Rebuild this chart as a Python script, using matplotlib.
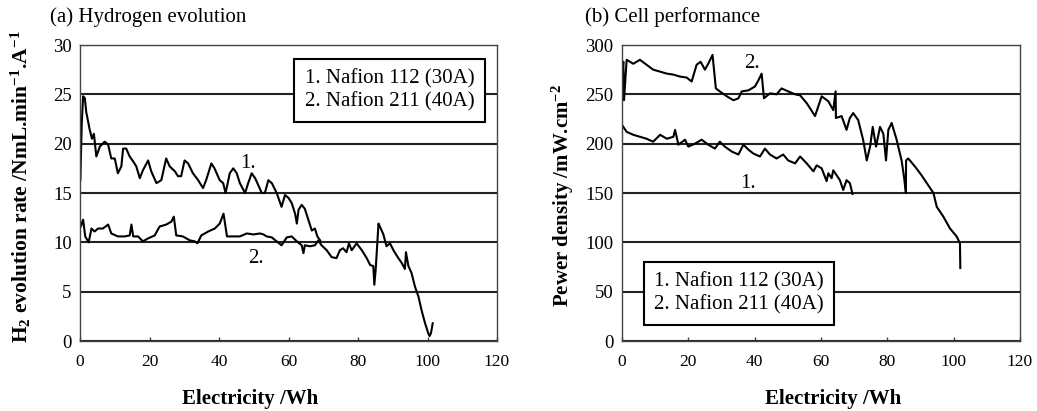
import matplotlib
matplotlib.use("Agg")
import matplotlib.pyplot as plt
import numpy as np

plt.rcParams['font.family'] = ['Liberation Serif', 'DejaVu Serif']
plt.rcParams['mathtext.fontset'] = 'custom'
plt.rcParams['mathtext.rm'] = 'Liberation Serif'
plt.rcParams['mathtext.bf'] = 'Liberation Serif:bold'
plt.rcParams['mathtext.default'] = 'bf'

# ---------- (a) Hydrogen evolution ----------
h2_x1 = [0.1, 0.5, 0.9, 1.4, 1.8, 2.8, 3.45, 4.0, 4.7, 5.7, 7.1, 8.1, 9.0, 10.0, 10.9, 11.9, 12.4, 13.3,
         14.3, 15.3, 16.2, 17.2, 18.1, 19.6, 20.5, 22.0, 23.4, 24.8, 25.8, 27.3, 28.2, 29.1, 30.1, 31.1,
         32.5, 34.0, 35.4, 36.3, 37.8, 38.7, 40.2, 41.2, 41.9, 43.1, 44.1, 45.1, 46.0, 47.5, 48.4, 49.4,
         50.4, 51.3, 52.3, 53.2, 54.2, 55.2, 56.6, 58.0, 59.0, 60.0, 60.9, 61.9, 62.4, 62.9, 63.8, 64.7,
         65.7, 66.7, 67.6, 68.3, 69.1]
h2_y1 = [16.3, 22.0, 24.8, 24.6, 23.2, 21.4, 20.5, 21.0, 18.7, 19.7, 20.2, 19.9, 18.5, 18.5, 17.0, 17.7,
         19.5, 19.5, 18.7, 18.2, 17.7, 16.5, 17.3, 18.3, 17.2, 16.0, 16.3, 18.5, 17.7, 17.2, 16.7, 16.7,
         18.3, 18.0, 17.0, 16.3, 15.5, 16.3, 18.0, 17.5, 16.3, 16.0, 15.0, 17.0, 17.5, 17.0, 16.0, 15.0,
         16.0, 17.0, 16.5, 15.8, 15.0, 15.0, 16.3, 16.0, 15.0, 13.6, 14.8, 14.5, 14.0, 12.9, 11.9, 13.3,
         13.8, 13.4, 12.3, 11.2, 11.4, 10.6, 10.2]

h2_x2 = [0.2, 0.9, 1.5, 2.5, 3.3, 4.2, 5.2, 6.6, 8.1, 9.0, 10.9, 12.9, 14.3, 14.8, 15.3, 16.7, 18.1, 19.6,
         21.5, 22.9, 24.8, 26.3, 27.0, 27.7, 29.6, 31.6, 33.0, 33.8, 34.9, 36.9, 38.8, 40.2, 41.3, 42.3,
         44.5, 46.0, 48.0, 49.9, 51.8, 52.8, 53.7, 55.2, 56.6, 58.0, 59.5, 60.9, 62.4, 63.8, 64.3, 64.7,
         66.2, 67.6, 68.6, 69.5, 71.0, 72.4, 73.8, 74.8, 75.7, 76.7, 77.4, 78.2, 79.6, 81.1, 82.5, 83.5,
         84.4, 84.7, 85.1, 85.9, 86.3, 87.3, 88.2, 89.2, 90.2, 91.6, 92.6, 93.5, 93.8, 94.5, 95.4, 96.4,
         97.4, 98.3, 99.3, 100.2, 100.6, 101.0, 101.5]
h2_y2 = [11.6, 12.3, 10.6, 10.0, 11.4, 11.1, 11.4, 11.4, 11.8, 10.9, 10.6, 10.6, 10.7, 11.8, 10.6, 10.6,
         10.1, 10.4, 10.7, 11.6, 11.8, 12.1, 12.6, 10.7, 10.6, 10.2, 10.1, 9.9, 10.7, 11.1, 11.4, 11.9,
         12.9, 10.6, 10.6, 10.6, 10.9, 10.8, 10.9, 10.8, 10.6, 10.5, 10.1, 9.7, 10.5, 10.6, 10.1, 9.7,
         8.9, 9.7, 9.6, 9.7, 10.2, 9.7, 9.2, 8.5, 8.4, 9.2, 9.4, 9.0, 9.9, 9.2, 9.9, 9.2, 8.4, 7.7, 7.6,
         5.7, 7.3, 11.9, 11.6, 10.8, 9.6, 9.9, 9.2, 8.4, 7.9, 7.3, 9.0, 7.6, 6.9, 5.5, 4.5, 3.1, 1.8, 0.8,
         0.5, 0.8, 1.8]

# ---------- (b) Cell performance ----------
pd_x1 = [0.0, 1.4, 3.4, 5.4, 7.4, 9.4, 11.5, 13.5, 15.5, 16.0, 17.0, 19.0, 20.0, 22.0, 24.0, 26.0, 28.0,
         29.5, 31.0, 33.1, 35.1, 36.6, 38.1, 39.6, 41.6, 43.1, 44.6, 46.6, 48.6, 50.1, 52.2, 53.7, 55.7,
         57.7, 58.7, 60.2, 61.7, 62.2, 63.2, 63.7, 64.7, 65.7, 66.7, 67.7, 68.7, 69.5]
pd_y1 = [219, 212, 209, 207, 205, 202, 209, 205, 207, 214, 199, 204, 197, 200, 204, 199, 195, 202, 197,
         192, 189, 199, 194, 190, 187, 195, 189, 185, 189, 183, 180, 187, 180, 172, 178, 175, 162, 170,
         165, 173, 168, 163, 153, 163, 160, 149]

pd_x2 = [0.0, 0.4, 0.6, 1.4, 3.4, 5.4, 7.4, 9.4, 11.5, 13.5, 15.5, 17.5, 19.5, 21.0, 22.5, 23.7, 25.0,
         26.0, 27.3, 28.3, 29.5, 31.6, 33.6, 35.1, 36.1, 38.1, 40.1, 41.1, 42.1, 42.8, 44.6, 46.6, 48.1,
         50.1, 52.2, 53.7, 55.7, 58.2, 60.2, 62.2, 63.7, 64.4, 64.5, 66.2, 67.7, 68.7, 69.7, 71.2, 72.7,
         73.8, 74.8, 75.6, 76.6, 77.8, 78.8, 79.6, 80.3, 81.3, 82.8, 84.3, 85.0, 85.6, 85.65, 86.3, 88.3,
         90.3, 92.3, 93.9, 94.9, 96.9, 98.9, 100.9, 101.9, 102.0]
pd_y2 = [270, 283, 244, 285, 281, 285, 280, 275, 273, 271, 270, 268, 267, 263, 280, 283, 275, 281, 290,
         256, 253, 248, 244, 246, 253, 254, 258, 264, 271, 246, 251, 250, 256, 253, 250, 249, 241, 228,
         248, 243, 234, 253, 226, 228, 214, 226, 231, 224, 204, 183, 197, 217, 197, 217, 210, 183, 214,
         221, 204, 183, 167, 150, 183, 185, 177, 168, 158, 150, 136, 126, 114, 106, 99, 74]

x_ticks = [0, 20, 40, 60, 80, 100, 120]
legend_text = "1. Nafion 112 (30A)\n2. Nafion 211 (40A)"

fig = plt.figure(figsize=(10.37, 4.11), dpi=100)
axA = fig.add_axes([80 / 1037, 1 - 341 / 411, 417 / 1037, 296 / 411])
axB = fig.add_axes([622 / 1037, 1 - 341 / 411, 398 / 1037, 296 / 411])


def style(ax, ymax, ystep):
    ax.set_xlim(0, 120)
    ax.set_ylim(0, ymax)
    ax.set_xticks(x_ticks)
    ax.set_yticks(np.arange(0, ymax + 1, ystep))
    ax.tick_params(axis='x', direction='in', length=3, width=1, labelsize=12.5, pad=9, color='#444444')
    ax.tick_params(axis='y', length=0, labelsize=13.5, pad=6)
    for s in ax.spines.values():
        s.set_linewidth(1.0)
        s.set_color('#444444')
    ax.yaxis.grid(True, color='#222222', linewidth=1.5)
    ax.set_axisbelow(True)
    ax.set_xlabel('Electricity /Wh', fontsize=15, fontweight='bold')


style(axA, 30, 5)
axA.plot(h2_x1, h2_y1, color='black', linewidth=1.5)
axA.plot(h2_x2, h2_y2, color='black', linewidth=1.5)
axA.set_ylabel(r'H$_{2}$ evolution rate /NmL.min$^{-1}$.A$^{-1}$', fontsize=15.5, fontweight='bold')
axA.xaxis.set_label_coords(0.408, -0.163)
axA.yaxis.set_label_coords(-0.113, 0.522)
axA.text(46, 18.0, '1.', fontsize=15, ha='left', va='center')
axA.text(48.3, 8.4, '2.', fontsize=15, ha='left', va='center')
axA.text(0.946, 0.919, legend_text, transform=axA.transAxes, ha='right', va='top', fontsize=15,
         linespacing=1.25, multialignment='right',
         bbox=dict(boxstyle='square,pad=0.5', fc='white', ec='black', lw=1.5))
fig.text(50 / 1037, 1 - 17 / 411, '(a) Hydrogen evolution', fontsize=15, va='center', ha='left')

style(axB, 300, 50)
axB.plot(pd_x1, pd_y1, color='black', linewidth=1.5)
axB.plot(pd_x2, pd_y2, color='black', linewidth=1.5)
axB.set_ylabel(r'Pewer density /mW.cm$^{-2}$', fontsize=15, fontweight='bold')
axB.xaxis.set_label_coords(0.530, -0.163)
axB.yaxis.set_label_coords(-0.116, 0.49)
axB.text(36.8, 281.7, '2.', fontsize=15, ha='left', va='center')
axB.text(35.6, 160, '1.', fontsize=15, ha='left', va='center')
axB.text(0.5065, 0.2318, legend_text, transform=axB.transAxes, ha='right', va='top', fontsize=15,
         linespacing=1.25, multialignment='right',
         bbox=dict(boxstyle='square,pad=0.5', fc='white', ec='black', lw=1.5))
fig.text(585 / 1037, 1 - 17 / 411, '(b) Cell performance', fontsize=15, va='center', ha='left')

fig.savefig('out.png', dpi=100)
